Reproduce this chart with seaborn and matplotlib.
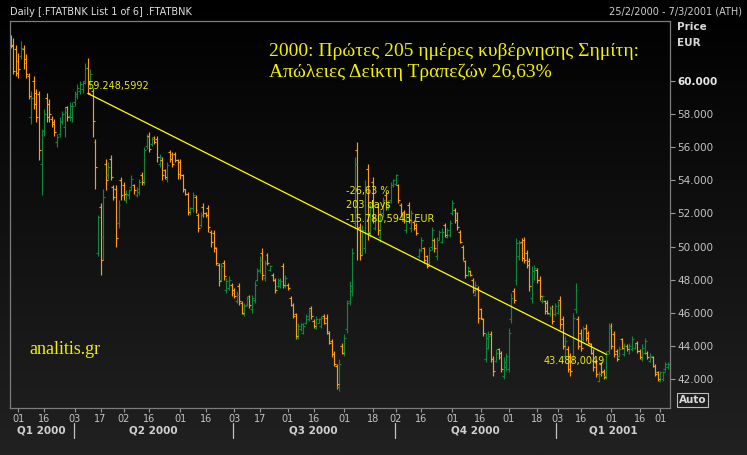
import matplotlib
matplotlib.use("Agg")
import matplotlib.pyplot as plt
import matplotlib.transforms as mtransforms
from matplotlib.colors import LinearSegmentedColormap
import numpy as np
import pandas as pd
import seaborn as sns

# Daily OHLC of the bank index (.FTATBNK), in thousands of EUR, bar 0 = 25/2/2000
open_ = [
    62.6, 62.2, 61.9, 61.2, 61.5, 61.9, 61.3, 60.3, 57.8, 60.0,
    59.3, 59.2, 55.0, 57.0, 59.0, 58.6, 57.7, 57.5, 56.3, 56.8,
    57.6, 57.2, 58.4, 57.9, 57.8, 58.7, 59.1, 59.4, 59.5, 60.0,
    60.8, 59.6, 59.4, 56.3, 49.6, 52.4, 50.6, 55.0, 54.3, 55.3,
    53.6, 53.5, 51.4, 54.0, 53.7, 52.8, 53.1, 53.6, 53.7, 53.1,
    53.3, 54.3, 54.0, 56.1, 56.7, 56.2, 56.6, 56.5, 55.0, 55.2,
    54.6, 54.1, 55.7, 55.6, 55.6, 55.2, 55.1, 54.3, 53.5, 53.2,
    52.0, 52.3, 53.0, 51.9, 51.3, 52.4, 52.0, 52.3, 50.9, 50.8,
    49.9, 48.9, 48.0, 49.0, 47.4, 47.5, 47.7, 47.4, 46.7, 47.6,
    46.6, 45.9, 46.5, 47.0, 46.2, 46.8, 48.0, 48.6, 49.6, 48.1,
    49.5, 48.6, 48.3, 48.0, 47.6, 47.6, 48.8, 47.6, 47.7, 46.9,
    46.5, 45.9, 44.5, 45.0, 44.8, 45.4, 45.6, 46.3, 45.5, 45.1,
    45.4, 45.2, 45.8, 45.7, 44.8, 44.3, 43.5, 42.8, 41.5, 44.0,
    43.6, 45.0, 46.7, 47.3, 51.4, 55.8, 51.2, 49.7, 49.9, 54.7,
    50.9, 53.9, 51.1, 52.4, 50.6, 52.0, 53.1, 52.3, 52.8, 53.7,
    53.8, 53.7, 52.5, 52.1, 51.0, 52.5, 51.1, 51.5, 51.3, 49.4,
    49.8, 49.9, 49.4, 49.0, 50.0, 50.4, 49.4, 50.5, 50.3, 51.3,
    50.6, 50.7, 52.0, 52.2, 52.0, 50.9, 50.0, 49.1, 48.3, 48.5,
    48.0, 47.1, 47.5, 46.2, 45.6, 43.2, 43.9, 44.7, 43.2, 43.1,
    43.8, 43.6, 42.2, 42.7, 42.6, 45.6, 47.3, 48.0, 49.4, 50.3,
    50.4, 49.6, 49.1, 46.9, 48.1, 48.6, 48.0, 46.7, 46.7, 46.6,
    45.9, 46.3, 45.9, 46.0, 46.8, 45.6, 43.4, 43.8, 43.4, 43.2,
    46.2, 45.6, 44.8, 44.4, 45.1, 44.8, 44.1, 43.6, 43.0, 41.9,
    42.9, 42.5, 42.2, 43.7, 45.2, 44.7, 43.7, 43.4, 44.4, 43.5,
    44.0, 43.6, 43.8, 43.9, 44.2, 43.7, 43.2, 43.6, 43.6, 43.1,
    43.3, 42.8, 42.4, 41.9, 42.0, 42.6, 42.7,
]
high = [
    62.8, 62.6, 62.2, 61.7, 62.4, 62.2, 61.6, 60.5, 59.4, 60.3,
    59.5, 59.4, 57.1, 58.3, 59.3, 58.9, 57.9, 57.7, 56.8, 57.8,
    58.2, 58.4, 58.5, 58.7, 58.7, 59.4, 59.8, 60.0, 60.0, 61.1,
    61.4, 60.7, 59.6, 56.5, 51.9, 52.6, 53.5, 55.3, 55.1, 55.5,
    53.7, 53.7, 52.8, 54.2, 53.9, 53.4, 53.5, 54.3, 53.8, 53.6,
    54.1, 54.5, 56.0, 56.8, 56.9, 56.6, 56.7, 56.7, 55.6, 55.4,
    54.7, 55.1, 55.8, 55.7, 55.7, 55.3, 55.3, 54.4, 53.5, 53.3,
    52.4, 53.3, 53.1, 52.0, 52.1, 52.6, 52.1, 52.5, 51.0, 51.0,
    50.0, 49.0, 49.0, 49.2, 48.1, 48.2, 47.8, 47.5, 47.3, 47.8,
    46.7, 46.6, 47.0, 47.1, 47.1, 47.9, 48.7, 49.4, 49.9, 49.2,
    49.6, 48.9, 48.4, 48.1, 48.1, 48.1, 49.0, 48.3, 47.8, 47.0,
    46.6, 46.0, 45.4, 45.4, 45.4, 45.9, 46.3, 46.4, 45.6, 45.8,
    45.7, 45.8, 45.9, 45.9, 44.9, 44.4, 43.7, 42.9, 43.2, 44.2,
    44.7, 46.8, 47.9, 49.9, 55.4, 56.3, 51.4, 51.3, 54.0, 55.0,
    52.6, 54.2, 51.8, 52.6, 52.2, 53.0, 53.3, 52.8, 53.9, 54.1,
    54.4, 53.8, 52.6, 52.2, 52.0, 52.7, 52.2, 51.6, 51.4, 49.9,
    50.6, 50.0, 49.5, 50.0, 51.2, 50.5, 50.6, 51.0, 51.1, 51.4,
    51.1, 51.6, 52.8, 52.3, 52.1, 51.0, 50.1, 49.2, 48.8, 48.6,
    48.1, 47.9, 47.6, 46.3, 45.7, 44.8, 44.9, 44.9, 43.4, 43.8,
    43.9, 43.7, 43.3, 43.6, 45.1, 47.2, 47.5, 50.5, 50.4, 50.5,
    50.6, 49.8, 49.3, 48.8, 48.9, 48.7, 48.2, 47.1, 46.8, 46.8,
    46.4, 46.5, 46.6, 46.7, 47.0, 45.8, 44.6, 44.0, 43.6, 46.0,
    47.8, 45.8, 45.0, 45.2, 45.3, 44.9, 44.2, 43.8, 43.2, 42.5,
    43.0, 42.6, 43.7, 45.4, 45.4, 44.9, 43.8, 44.0, 44.5, 44.2,
    44.1, 44.2, 44.6, 44.2, 44.3, 43.8, 44.1, 44.5, 43.7, 43.6,
    43.4, 42.9, 42.5, 42.5, 42.5, 43.0, 43.0,
]
low = [
    62.0, 60.4, 60.3, 60.2, 61.3, 60.7, 60.2, 58.9, 57.4, 58.3,
    57.5, 55.2, 53.1, 56.7, 57.5, 57.5, 57.2, 56.7, 56.0, 56.6,
    57.4, 56.6, 57.6, 57.6, 57.5, 58.5, 58.9, 59.2, 59.3, 59.8,
    59.2, 59.5, 56.6, 53.5, 49.4, 48.3, 49.2, 53.4, 54.1, 54.0,
    52.8, 50.0, 51.1, 52.8, 52.8, 52.6, 52.9, 53.4, 53.2, 53.0,
    53.1, 53.7, 53.7, 55.9, 55.7, 56.1, 56.2, 55.1, 54.8, 54.0,
    54.1, 53.9, 55.1, 54.8, 55.1, 54.1, 54.1, 53.3, 53.1, 51.9,
    51.9, 52.1, 52.0, 50.9, 51.2, 51.8, 51.8, 50.9, 50.0, 49.7,
    48.9, 47.6, 47.9, 48.0, 47.2, 47.4, 47.0, 46.9, 46.6, 46.5,
    45.9, 45.8, 46.4, 46.3, 46.0, 46.6, 47.9, 48.4, 48.0, 47.9,
    48.9, 48.5, 47.9, 47.2, 47.5, 47.5, 47.5, 47.5, 47.4, 46.4,
    45.7, 44.4, 44.4, 44.9, 44.7, 45.3, 45.5, 45.6, 45.1, 45.0,
    45.4, 45.1, 45.3, 44.7, 44.1, 43.3, 42.8, 41.4, 41.3, 43.5,
    43.4, 44.8, 46.5, 47.0, 51.1, 49.2, 49.2, 49.5, 49.6, 50.4,
    50.6, 51.4, 51.0, 50.7, 50.3, 51.8, 52.2, 52.2, 52.6, 53.6,
    53.7, 52.6, 51.8, 51.4, 50.8, 51.4, 50.9, 51.0, 50.7, 49.3,
    49.7, 49.0, 48.7, 48.9, 49.8, 49.7, 49.2, 50.4, 50.2, 50.6,
    50.5, 50.6, 51.9, 51.4, 51.0, 50.2, 49.2, 48.1, 48.2, 48.2,
    47.2, 47.0, 45.4, 45.6, 44.6, 43.0, 43.8, 43.0, 42.2, 43.0,
    43.2, 42.4, 42.0, 42.5, 42.4, 45.4, 46.6, 47.7, 49.2, 49.1,
    49.0, 48.7, 47.3, 46.6, 48.0, 47.8, 46.8, 46.6, 45.9, 45.9,
    45.8, 45.3, 45.8, 45.9, 45.0, 43.8, 43.2, 42.4, 42.2, 43.0,
    46.0, 43.8, 43.7, 44.3, 44.3, 44.1, 43.5, 42.5, 42.1, 41.8,
    42.2, 42.0, 42.0, 43.5, 43.8, 43.3, 43.1, 43.3, 43.8, 43.4,
    43.7, 43.5, 43.7, 43.8, 43.6, 43.2, 43.1, 43.5, 43.2, 43.0,
    42.7, 42.2, 41.9, 41.8, 41.9, 42.5, 42.6,
]
close = [
    62.1, 60.6, 60.5, 60.7, 62.0, 61.1, 60.4, 59.1, 59.0, 58.6,
    57.8, 55.8, 56.8, 58.0, 57.8, 58.0, 57.4, 56.9, 56.6, 57.5,
    58.0, 58.1, 57.8, 58.5, 58.5, 59.2, 59.6, 59.8, 59.9, 60.8,
    59.25, 60.4, 57.6, 54.8, 51.8, 49.2, 53.0, 54.0, 54.8, 54.2,
    53.0, 50.5, 52.5, 53.1, 53.2, 53.2, 53.4, 54.1, 53.4, 53.5,
    53.9, 53.9, 55.8, 56.6, 55.9, 56.5, 56.3, 55.4, 55.4, 54.3,
    54.2, 54.9, 55.3, 55.0, 55.2, 54.4, 54.3, 53.5, 53.2, 52.1,
    52.3, 53.1, 52.2, 51.1, 51.9, 52.0, 51.9, 51.2, 50.3, 50.0,
    49.0, 47.9, 48.8, 48.2, 47.9, 48.0, 47.2, 47.0, 47.1, 46.7,
    46.0, 46.4, 46.9, 46.5, 46.9, 47.7, 48.5, 49.2, 48.3, 49.0,
    49.0, 48.8, 48.0, 47.4, 48.0, 47.9, 47.7, 48.1, 47.5, 46.5,
    45.8, 44.6, 45.2, 45.3, 45.2, 45.8, 46.1, 45.8, 45.2, 45.6,
    45.6, 45.7, 45.4, 44.9, 44.2, 43.5, 42.9, 41.7, 42.9, 43.6,
    44.5, 46.6, 47.6, 49.6, 55.0, 51.1, 49.5, 51.0, 53.6, 50.8,
    52.3, 51.7, 51.6, 51.0, 51.9, 52.8, 52.4, 52.7, 53.7, 54.0,
    54.3, 52.8, 52.0, 51.6, 51.8, 51.6, 52.0, 51.1, 50.8, 49.8,
    50.4, 49.2, 48.8, 49.8, 51.0, 49.9, 50.4, 50.9, 50.9, 50.7,
    51.0, 51.4, 52.6, 51.6, 51.2, 50.3, 49.3, 48.3, 48.7, 48.3,
    47.4, 47.7, 45.7, 45.7, 44.8, 44.5, 44.6, 43.2, 42.5, 43.6,
    43.3, 42.6, 43.0, 43.4, 44.8, 46.9, 46.8, 50.2, 50.2, 49.3,
    49.2, 48.9, 47.6, 48.5, 48.7, 48.0, 47.0, 47.0, 46.1, 46.0,
    46.3, 45.5, 46.4, 46.5, 45.3, 44.0, 44.3, 42.6, 42.5, 45.7,
    47.4, 44.0, 43.9, 45.0, 44.5, 44.2, 43.6, 42.7, 42.3, 42.3,
    42.4, 42.1, 43.5, 45.1, 44.0, 43.5, 43.2, 43.8, 43.9, 44.0,
    43.8, 44.0, 44.4, 44.1, 43.7, 43.3, 43.9, 44.3, 43.3, 43.4,
    42.8, 42.3, 42.0, 42.4, 42.4, 42.9, 42.9,
]

# trend line drawn on the chart (bar index, value in thousands)
trend_days = [30, 232]
trend_values = [59.2485992, 43.4880049]

x_tick_pos = [3, 13, 25, 35, 44, 54, 66, 76, 87, 97, 108, 118, 130,
              141, 150, 160, 172, 183, 194, 205, 213, 222, 234, 245, 253]
x_tick_labels = ["01", "16", "03", "17", "02", "16", "01", "16", "03", "17",
                 "01", "16", "01", "18", "02", "16", "01", "16", "01", "18",
                 "03", "16", "01", "16", "01"]
quarter_breaks = [24.5, 86.5, 149.5, 212.5]
quarter_labels = ["Q1 2000", "Q2 2000", "Q3 2000", "Q4 2000", "Q1 2001"]
price_ticks = [42, 44, 46, 48, 50, 52, 54, 56, 58, 60]

UP = "#10853c"
DOWN = "#ff9a1a"
YELLOW = "#f2f200"
LABEL = "#e6ea10"

sns.set_theme(style="dark", rc={"axes.facecolor": "none", "figure.facecolor": "black"})
plt.rcParams["font.family"] = ["DejaVu Sans"]

df = pd.DataFrame({"open": open_, "high": high, "low": low, "close": close})
df["day"] = np.arange(len(df))
colors = np.where(df["close"] >= df["open"], UP, DOWN)

W, H = 747, 455
fig = plt.figure(figsize=(W / 100, H / 100), dpi=100)

# background gradient (black on top to dark grey at the bottom)
bg = fig.add_axes([0, 0, 1, 1], zorder=-10)
grad = np.linspace(0, 1, 256).reshape(-1, 1)
cmap = LinearSegmentedColormap.from_list("bg", ["#000000", "#212121"])
bg.imshow(grad, aspect="auto", cmap=cmap, extent=[0, 1, 0, 1], origin="upper")
bg.axis("off")

left, right, top, bottom = 9.7, 670, 21, 408
ax = fig.add_axes([left / W, 1 - bottom / H, (right - left) / W, (bottom - top) / H])
ax.set_zorder(1)
ax.set_facecolor("none")

# OHLC bars
ax.vlines(df["day"], df["low"], df["high"], colors=colors, lw=0.85)
ax.hlines(df["open"], df["day"] - 0.75, df["day"], colors=colors, lw=0.85)
ax.hlines(df["close"], df["day"], df["day"] + 0.75, colors=colors, lw=0.85)

sns.lineplot(x=trend_days, y=trend_values, ax=ax, color="#ffff00", lw=0.9)

ax.set_xlim(-0.4, 256.8)
ax.set_ylim(40.25, 63.62)
ax.grid(False)
for s in ax.spines.values():
    s.set_color("#7c7c7c")
    s.set_linewidth(0.9)

# right price axis
ax.yaxis.tick_right()
ax.set_yticks(price_ticks)
ax.set_yticklabels([f"{v:.3f}" for v in price_ticks])
ax.tick_params(axis="y", which="both", direction="out", length=3.5, width=0.8,
               color="#9a9a9a", labelcolor="#c4c4c4", labelsize=7.5, pad=2,
               right=True, left=False)
for t in ax.get_yticklabels():
    if t.get_text() == "60.000":
        t.set_fontweight("bold")
        t.set_color("#e8e8e8")

# date axis
ax.set_xticks(x_tick_pos)
ax.set_xticklabels(x_tick_labels)
ax.tick_params(axis="x", direction="out", length=3, width=0.8, color="#9a9a9a",
               labelcolor="#c4c4c4", labelsize=7, pad=1.5, bottom=True)
ax.set_xlabel("")
ax.set_ylabel("")

trans = mtransforms.blended_transform_factory(ax.transData, ax.transAxes)
edges = [-0.4] + quarter_breaks + [256.8]
for i, q in enumerate(quarter_labels):
    mid = (edges[i] + edges[i + 1]) / 2
    ax.text(mid, -0.057, q, transform=trans, ha="center", va="center",
            fontsize=7.5, fontweight="bold", color="#d0d0d0", clip_on=False)
for b in quarter_breaks:
    ax.plot([b, b], [-0.039, -0.077], transform=trans, color="#c0c0c0",
            lw=0.9, clip_on=False)

# annotations of the trend line
ax.text(29.8, 59.70, "59.248,5992", color=LABEL, fontsize=7, ha="left", va="center")
ax.text(130.6, 53.36, "-26,63 %", color=LABEL, fontsize=7, ha="left", va="center")
ax.text(130.6, 52.51, "203 days", color=LABEL, fontsize=7, ha="left", va="center")
ax.text(130.6, 51.67, "-15.780,5943 EUR", color=LABEL, fontsize=7, ha="left", va="center")
ax.text(231.5, 43.09, "43.488,0049", color=LABEL, fontsize=7, ha="right", va="center")

# headers and titles
fig.text(9.5 / W, 1 - 12 / H, "Daily [.FTATBNK List 1 of 6] .FTATBNK",
         color="#e0e0e0", fontsize=7, va="center", ha="left")
fig.text(742 / W, 1 - 12 / H, "25/2/2000 - 7/3/2001 (ATH)",
         color="#d0d0d0", fontsize=7, va="center", ha="right")
fig.text(677 / W, 1 - 27 / H, "Price", color="#d8d8d8", fontsize=7.5,
         fontweight="bold", va="center", ha="left")
fig.text(677 / W, 1 - 43 / H, "EUR", color="#d8d8d8", fontsize=7.5,
         fontweight="bold", va="center", ha="left")
fig.text(679 / W, 1 - 400 / H, "Auto", color="#d8d8d8", fontsize=7.5,
         fontweight="bold", va="center", ha="left",
         bbox=dict(boxstyle="square,pad=0.15", fc="none", ec="#bdbdbd", lw=0.8))

serif = ["Liberation Serif", "DejaVu Serif"]
fig.text(269 / W, 1 - 51.7 / H, "2000: Πρώτες 205 ημέρες κυβέρνησης Σημίτη:",
         color=YELLOW, fontsize=14, family=serif, va="center", ha="left")
fig.text(269 / W, 1 - 72 / H, "Απώλειες Δείκτη Τραπεζών 26,63%",
         color=YELLOW, fontsize=14, family=serif, va="center", ha="left")
fig.text(29.7 / W, 1 - 349 / H, "analitis.gr", color=YELLOW, fontsize=13,
         family=serif, va="center", ha="left")

fig.savefig("out.png", dpi=100)
